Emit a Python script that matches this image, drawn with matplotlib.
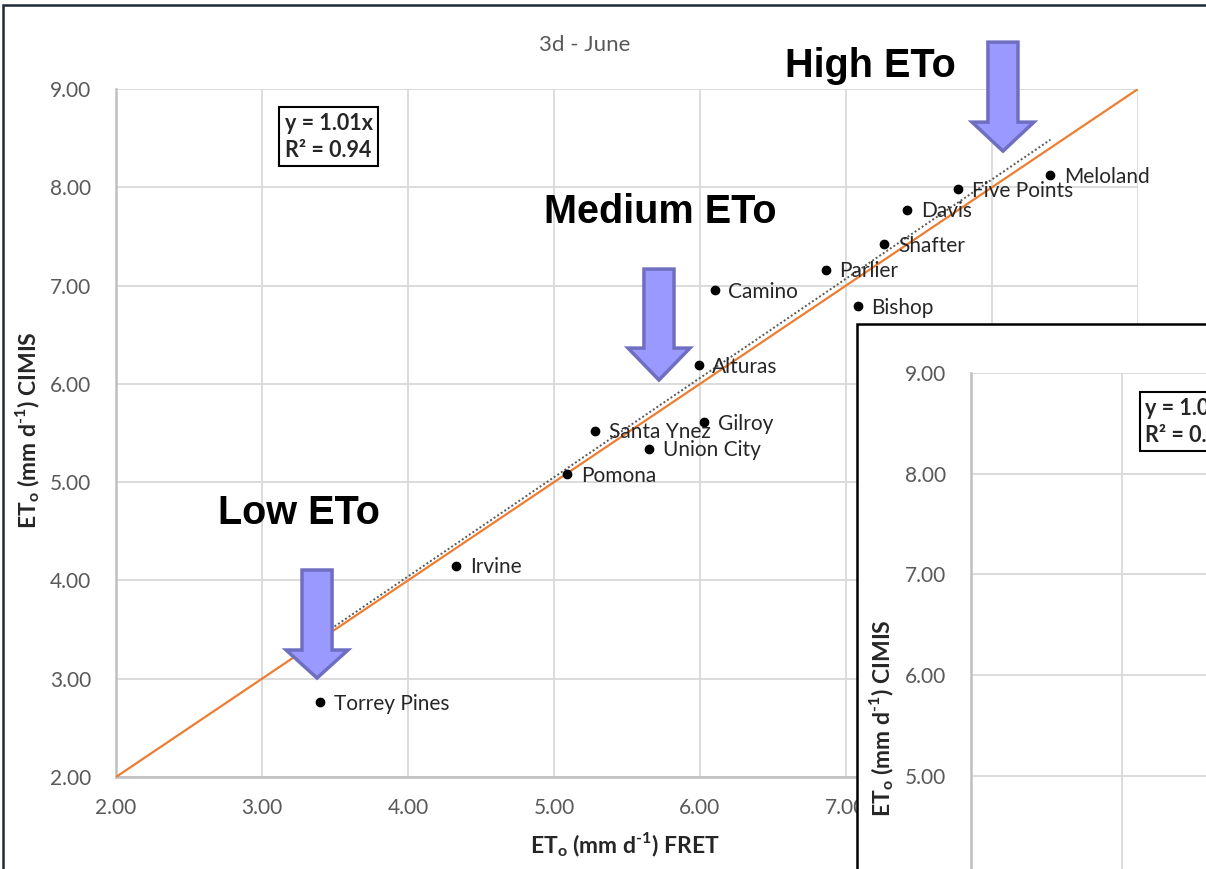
import matplotlib
matplotlib.use("Agg")
import matplotlib.pyplot as plt
import numpy as np
from matplotlib.patches import Polygon, Rectangle

plt.rcParams["font.family"] = ["Lato", "DejaVu Sans"]
plt.rcParams["mathtext.fontset"] = "custom"
plt.rcParams["mathtext.rm"] = "Lato:bold"
plt.rcParams["mathtext.bf"] = "Lato:bold"

# FRET vs CIMIS reference ET for each station (mm/day)
stations = ["Torrey Pines", "Irvine", "Pomona", "Santa Ynez", "Union City", "Gilroy",
            "Alturas", "Camino", "Bishop", "Parlier", "Shafter", "Davis",
            "Five Points", "Meloland"]
fret = [3.40, 4.33, 5.09, 5.28, 5.65, 6.03, 5.99, 6.10, 7.08, 6.86, 7.26, 7.42, 7.77, 8.40]
cimis = [2.76, 4.15, 5.08, 5.52, 5.34, 5.61, 6.19, 6.95, 6.79, 7.16, 7.42, 7.77, 7.98, 8.12]

slope = 1.01
r_squared = 0.94
axis_ticks = [2.00, 3.00, 4.00, 5.00, 6.00, 7.00, 8.00, 9.00]
tick_labels = [f"{t:.2f}" for t in axis_ticks]

W, H = 1206, 869
fig = plt.figure(figsize=(W / 100, H / 100), dpi=100)
fig.patch.set_facecolor("white")

GRID = "#d9d9d9"
SPINE = "#bfbfbf"
TICK = "#595959"
LABEL = "#262626"
ARROW_FACE = "#9999ff"
ARROW_EDGE = "#6f6fc2"
Y_LABEL = "ET$_\\mathrm{o}$ (mm d$^{\\mathrm{\u20101}}$) CIMIS"
X_LABEL = "ET$_\\mathrm{o}$ (mm d$^{\\mathrm{\u20101}}$) FRET"


def px_rect(left, top, right, bottom):
    return [left / W, 1 - bottom / H, (right - left) / W, (bottom - top) / H]


def style_axes(ax):
    ax.set_xlim(2, 9)
    ax.set_ylim(2, 9)
    ax.set_xticks(axis_ticks)
    ax.set_yticks(axis_ticks)
    ax.set_xticklabels(tick_labels)
    ax.set_yticklabels(tick_labels)
    ax.grid(True, color=GRID, lw=1.3)
    ax.set_axisbelow(True)
    for side in ["top", "right"]:
        ax.spines[side].set_visible(False)
    for side in ["left", "bottom"]:
        ax.spines[side].set_color(SPINE)
        ax.spines[side].set_linewidth(1.8)
    ax.tick_params(length=0, labelsize=15, labelcolor=TICK)
    ax.tick_params(axis="y", pad=18)
    ax.tick_params(axis="x", pad=15)


def fit_box(ax):
    ax.text(3.155, 8.515, f"y = {slope:.2f}x\nR² = {r_squared:.2f}", fontsize=15.5,
            fontweight="bold", color=LABEL, ha="left", va="center", linespacing=1.35,
            bbox=dict(boxstyle="square,pad=0.25", facecolor="white", edgecolor="black", lw=1.5),
            zorder=6)


def down_arrow(ax, xc, top, base, tip, shaft_hw, head_hw):
    verts = [(xc - shaft_hw, top), (xc + shaft_hw, top), (xc + shaft_hw, base),
             (xc + head_hw, base), (xc, tip), (xc - head_hw, base), (xc - shaft_hw, base)]
    ax.add_patch(Polygon(verts, closed=True, facecolor=ARROW_FACE, edgecolor=ARROW_EDGE,
                         lw=2.5, zorder=6, clip_on=False, joinstyle="miter"))


# Main panel
ax = fig.add_axes(px_rect(116, 89, 1138, 777))
style_axes(ax)

ax.plot([2, 9], [2, 9], color="#ed7d31", lw=1.6, zorder=3)
fx = np.array([min(fret), max(fret)])
ax.plot(fx, slope * fx, color="#595959", lw=1.4, ls=(0, (1, 1.2)), zorder=3)
ax.scatter(fret, cimis, s=36, color="black", zorder=5)
for name, x, y in zip(stations, fret, cimis):
    ax.annotate(name, (x, y), xytext=(10, -1), textcoords="offset points",
                ha="left", va="center", fontsize=15, color=LABEL, zorder=5)

fit_box(ax)

fig.text(625 / W, 1 - 845 / H, X_LABEL, fontsize=16.5, fontweight="bold", color=LABEL,
         ha="center", va="center")
fig.text(28 / W, 1 - 430 / H, Y_LABEL, fontsize=16.5, fontweight="bold", color=LABEL,
         ha="center", va="center", rotation=90)
fig.text(585 / W, 1 - 45 / H, "3d - June", fontsize=16, color=TICK, ha="center", va="center")

# ETo range callouts
callout = dict(fontsize=28.5, fontweight="bold", family="Liberation Sans",
               ha="center", va="center", zorder=7)
ax.text(7.17, 9.23, "High ETo", clip_on=False, **callout)
ax.text(5.73, 7.75, "Medium ETo", **callout)
ax.text(3.25, 4.69, "Low ETo", **callout)
down_arrow(ax, 8.075, 9.477, 8.663, 8.368, 0.103, 0.212)
down_arrow(ax, 5.719, 7.168, 6.364, 6.039, 0.103, 0.212)
down_arrow(ax, 3.377, 4.106, 3.292, 3.007, 0.103, 0.212)

# Overlapping second panel
fig.add_artist(Rectangle((857 / W, -0.05), 0.4, 1 - 324 / H + 0.05, transform=fig.transFigure,
                         facecolor="white", edgecolor="black", lw=1.8, zorder=10))
ax2 = fig.add_axes(px_rect(971, 373, 971 + 7 * 151, 373 + 7 * 100.7), zorder=11)
ax2.patch.set_alpha(0)
style_axes(ax2)
fit_box(ax2)
fig.text(882 / W, 1 - 718 / H, Y_LABEL, fontsize=16.5, fontweight="bold", color=LABEL,
         ha="center", va="center", rotation=90, zorder=12)

# Slide frame
fig.add_artist(Rectangle((3 / W, -0.05), 1.1, 1 - 5 / H + 0.05, transform=fig.transFigure,
                         facecolor="none", edgecolor="#1f2a36", lw=1.8, zorder=20))

fig.savefig("out.png", dpi=100)
